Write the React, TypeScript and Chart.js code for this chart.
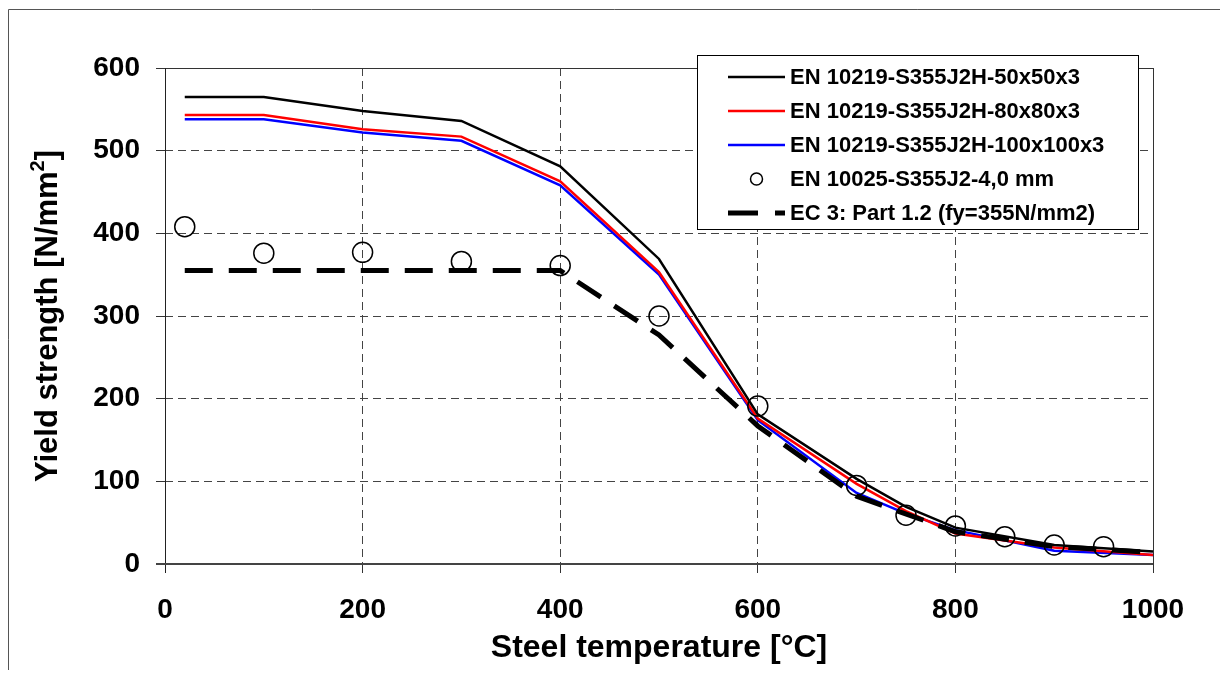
import React, { useEffect, useRef } from "react";
import { Chart, registerables } from "chart.js";

Chart.register(...registerables);

const FONT = "'Liberation Sans', Arial, Helvetica, sans-serif";

// Steel temperature [°C] for the three hollow-section curves
const lineTemps = [20, 100, 200, 300, 400, 500, 600, 700, 750, 800, 900, 1000];
const s50x50x3 = [565, 565, 548, 536, 481, 369, 181, 103, 69, 44, 23, 15];
const s80x80x3 = [543, 543, 526, 517, 463, 353, 176, 97, 64, 37, 20, 11];
const s100x100x3 = [538, 538, 522, 512, 458, 350, 174, 86, 61, 41, 16, 11];

// EN 10025 test points
const plateTemps = [20, 100, 200, 300, 400, 500, 600, 700, 750, 800, 850, 900, 950];
const plate4mm = [408, 376, 377, 366, 361, 300, 191, 95, 59, 46, 33, 23, 21];

// EC 3 Part 1.2 curve
const ecTemps = [20, 100, 200, 300, 400, 500, 600, 700, 800, 900, 1000];
const ec3 = [355, 355, 355, 355, 355, 277, 167, 82, 39, 21, 14];

const labels = [
  "EN 10219-S355J2H-50x50x3",
  "EN 10219-S355J2H-80x80x3",
  "EN 10219-S355J2H-100x100x3",
  "EN 10025-S355J2-4,0 mm",
  "EC 3: Part 1.2 (fy=355N/mm2)",
];

const xTitle = "Steel temperature [°C]";
const yTitleMain = "Yield strength [N/mm";
const yTitleSup = "2";
const yTitleEnd = "]";

const pts = (xs: number[], ys: number[]) => xs.map((x, i) => ({ x, y: ys[i] }));

const decorPlugin = {
  id: "decor",
  afterDraw(chart: any) {
    const { ctx, chartArea: ca } = chart;
    const W = chart.width;
    ctx.save();
    // outer frame (top & left)
    ctx.strokeStyle = "#555";
    ctx.lineWidth = 1;
    ctx.beginPath();
    ctx.moveTo(0.5, chart.height);
    ctx.lineTo(0.5, 1.5);
    ctx.lineTo(W, 1.5);
    ctx.stroke();

    // plot border top/right
    ctx.strokeStyle = "#333";
    ctx.lineWidth = 1;
    ctx.beginPath();
    ctx.moveTo(ca.left, ca.top + 0.5);
    ctx.lineTo(ca.right + 0.5, ca.top + 0.5);
    ctx.lineTo(ca.right + 0.5, ca.bottom + 9);
    ctx.stroke();
    // y axis
    ctx.strokeStyle = "#222";
    ctx.beginPath();
    ctx.moveTo(ca.left + 0.5, ca.top);
    ctx.lineTo(ca.left + 0.5, ca.bottom + 9);
    ctx.stroke();
    // x axis
    ctx.strokeStyle = "#444";
    ctx.lineWidth = 2;
    ctx.beginPath();
    ctx.moveTo(ca.left - 9, ca.bottom);
    ctx.lineTo(ca.right, ca.bottom);
    ctx.stroke();

    // x title
    ctx.fillStyle = "#000";
    ctx.font = `bold 32px ${FONT}`;
    ctx.textAlign = "center";
    ctx.textBaseline = "middle";
    ctx.fillText(xTitle, (ca.left + ca.right) / 2, 640);

    // y title (rotated, with superscript)
    ctx.save();
    ctx.translate(49, (ca.top + ca.bottom) / 2);
    ctx.rotate(-Math.PI / 2);
    ctx.textBaseline = "alphabetic";
    ctx.textAlign = "left";
    const mainFont = `bold 31px ${FONT}`;
    const supFont = `bold 20px ${FONT}`;
    ctx.font = mainFont;
    const w1 = ctx.measureText(yTitleMain).width;
    const w3 = ctx.measureText(yTitleEnd).width;
    ctx.font = supFont;
    const w2 = ctx.measureText(yTitleSup).width;
    const total = w1 + w2 + w3;
    let x0 = -total / 2;
    ctx.font = mainFont;
    ctx.fillText(yTitleMain, x0, 0);
    x0 += w1;
    ctx.font = supFont;
    ctx.fillText(yTitleSup, x0, -13);
    x0 += w2;
    ctx.font = mainFont;
    ctx.fillText(yTitleEnd, x0, 0);
    ctx.restore();

    // legend
    const bx = 689.5, by = 47.5, bw = 441, bh = 174;
    ctx.fillStyle = "#fff";
    ctx.fillRect(bx, by, bw, bh);
    ctx.strokeStyle = "#000";
    ctx.lineWidth = 1;
    ctx.strokeRect(bx, by, bw, bh);
    ctx.font = `bold 22px ${FONT}`;
    ctx.textAlign = "left";
    ctx.textBaseline = "middle";
    chart.data.datasets.forEach((ds: any, i: number) => {
      const cy = 69 + i * 34;
      const x1 = 720, x2 = 777;
      if (ds.showLine === false) {
        ctx.beginPath();
        ctx.lineWidth = 1.5;
        ctx.strokeStyle = "#000";
        ctx.arc((x1 + x2) / 2, cy, 6, 0, Math.PI * 2);
        ctx.stroke();
      } else {
        ctx.save();
        ctx.strokeStyle = ds.borderColor;
        ctx.lineWidth = ds.borderWidth;
        ctx.setLineDash(ds.borderDash ? [30, 17] : []);
        ctx.beginPath();
        ctx.moveTo(x1, cy);
        ctx.lineTo(x2, cy);
        ctx.stroke();
        ctx.restore();
      }
      ctx.fillStyle = "#000";
      ctx.fillText(ds.label, 782, cy + 1);
    });
    ctx.restore();
  },
};

export default function App() {
  const ref = useRef<HTMLCanvasElement | null>(null);
  useEffect(() => {
    if (!ref.current) return;
    const tickFont = { family: FONT, size: 28, weight: "bold" as const };
    const chart = new Chart(ref.current, {
      type: "line",
      data: {
        datasets: [
          {
            label: labels[0],
            data: pts(lineTemps, s50x50x3),
            borderColor: "#000000",
            borderWidth: 2.5,
            pointRadius: 0,
            tension: 0,
            order: 1,
          },
          {
            label: labels[1],
            data: pts(lineTemps, s80x80x3),
            borderColor: "#ff0000",
            borderWidth: 2.5,
            pointRadius: 0,
            tension: 0,
            order: 4,
          },
          {
            label: labels[2],
            data: pts(lineTemps, s100x100x3),
            borderColor: "#0000ff",
            borderWidth: 2.5,
            pointRadius: 0,
            tension: 0,
            order: 5,
          },
          {
            label: labels[3],
            data: pts(plateTemps, plate4mm),
            showLine: false,
            pointRadius: 10,
            pointBorderWidth: 1.5,
            pointBorderColor: "#000",
            pointBackgroundColor: "rgba(0,0,0,0)",
            borderColor: "#000",
            order: 3,
          },
          {
            label: labels[4],
            data: pts(ecTemps, ec3),
            borderColor: "#000000",
            borderWidth: 5,
            borderDash: [28, 16],
            pointRadius: 0,
            tension: 0,
            order: 2,
          },
        ] as any,
      },
      options: {
        animation: false,
        responsive: false,
        layout: { padding: { top: 60, right: 67, left: 0, bottom: 0 } },
        plugins: { legend: { display: false }, tooltip: { enabled: false } },
        scales: {
          x: {
            type: "linear",
            min: 0,
            max: 1000,
            afterFit: (s: any) => {
              s.height = 106;
            },
            ticks: {
              stepSize: 200,
              font: tickFont,
              color: "#000",
              padding: 20,
              maxRotation: 0,
              callback: (v: any) => String(v),
            },
            grid: { color: "#444", lineWidth: 1, tickLength: 9, tickColor: "#333", tickWidth: 1 },
            border: { display: false, dash: [8, 5] },
          },
          y: {
            type: "linear",
            min: 0,
            max: 600,
            afterFit: (s: any) => {
              s.width = 157;
            },
            ticks: {
              stepSize: 100,
              font: tickFont,
              color: "#000",
              padding: 16,
              callback: (v: any) => String(v),
            },
            grid: { color: "#444", lineWidth: 1, tickLength: 9, tickColor: "#333", tickWidth: 1 },
            border: { display: false, dash: [8, 5] },
          },
        },
      } as any,
      plugins: [decorPlugin],
    });
    return () => chart.destroy();
  }, []);
  return (
    <canvas
      ref={ref}
      width={1212}
      height={662}
      style={{ display: "block", width: 1212, height: 662 }}
    />
  );
}
